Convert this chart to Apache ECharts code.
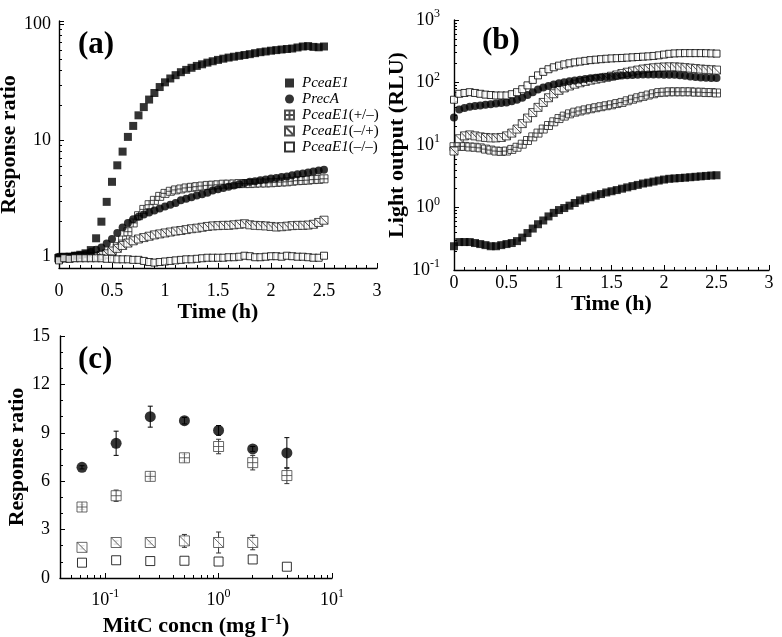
<!DOCTYPE html>
<html><head><meta charset="utf-8">
<script src="https://cdn.jsdelivr.net/npm/echarts@6/dist/echarts.min.js"></script>
<style>html,body{margin:0;padding:0;background:#fff}#c{width:782px;height:637px}</style>
</head><body><div id="c"></div>
<script>
// ---------- data ----------
const time = [0,0.05,0.1,0.15,0.2,0.25,0.3,0.35,0.4,0.45,0.5,0.55,0.6,0.65,0.7,0.75,0.8,0.85,0.9,0.95,1,1.05,1.1,1.15,1.2,1.25,1.3,1.35,1.4,1.45,1.5,1.55,1.6,1.65,1.7,1.75,1.8,1.85,1.9,1.95,2,2.05,2.1,2.15,2.2,2.25,2.3,2.35,2.4,2.45,2.5];
const seriesNames = ['PceaE1','PrecA','PceaE1(+/–)','PceaE1(–/+)','PceaE1(–/–)'];
// panel (a): response ratio
const aPceaE1 = [0.97,1.0,1.0,1.02,1.04,1.07,1.14,1.44,2.0,2.96,4.4,6.1,8.0,10.7,13.3,16.4,19.3,22.4,25.5,28.7,31.5,34.0,36.3,38.5,40.3,42.0,43.6,45.0,46.5,47.8,49.1,50.3,51.4,52.3,53.2,54.1,55.0,56.1,57.2,58.0,58.9,59.6,60.3,60.9,61.5,62.8,64.0,64.5,63.5,63.0,64.0];
const aPrecA = [1.0,0.98,1.0,1.02,1.03,1.05,1.1,1.15,1.2,1.3,1.42,1.6,1.78,1.95,2.1,2.2,2.3,2.4,2.5,2.6,2.7,2.8,2.9,3.05,3.15,3.25,3.35,3.45,3.55,3.7,3.8,3.9,4.0,4.1,4.2,4.3,4.4,4.45,4.55,4.6,4.7,4.75,4.85,4.9,5.0,5.1,5.2,5.3,5.4,5.5,5.6];
const aPlusMinus = [0.97,0.98,0.98,0.99,1.0,1.0,1.0,1.0,1.02,1.04,1.1,1.22,1.39,1.64,1.95,2.25,2.55,2.8,3.05,3.3,3.5,3.65,3.75,3.82,3.9,3.95,4.0,4.05,4.1,4.12,4.15,4.2,4.2,4.22,4.25,4.25,4.25,4.28,4.3,4.3,4.32,4.35,4.38,4.4,4.45,4.5,4.52,4.55,4.6,4.62,4.67];
const aMinusPlus = [0.97,0.98,0.98,0.99,1.0,1.0,1.0,1.01,1.03,1.06,1.12,1.18,1.25,1.31,1.37,1.42,1.46,1.5,1.54,1.57,1.6,1.63,1.66,1.68,1.71,1.74,1.76,1.79,1.82,1.84,1.85,1.86,1.86,1.88,1.9,1.92,1.88,1.86,1.85,1.84,1.82,1.8,1.81,1.83,1.85,1.86,1.86,1.87,1.9,1.97,2.06];
const aMinusMinus = [0.93,0.97,0.96,0.97,0.97,0.97,0.97,0.97,0.97,0.96,0.96,0.95,0.95,0.95,0.94,0.94,0.92,0.9,0.89,0.9,0.91,0.92,0.93,0.94,0.95,0.95,0.96,0.97,0.98,0.98,0.98,0.98,0.99,0.99,1.0,1.02,1.01,0.99,0.99,1.0,1.01,1.01,1.0,1.02,1.01,1.0,1.0,0.99,0.98,0.98,1.02];
// panel (b): light output (RLU)
const bPceaE1 = [0.24,0.28,0.28,0.28,0.27,0.26,0.25,0.24,0.24,0.25,0.26,0.27,0.29,0.33,0.39,0.46,0.54,0.62,0.72,0.82,0.91,0.98,1.07,1.18,1.3,1.38,1.46,1.55,1.64,1.74,1.82,1.9,2.0,2.1,2.2,2.3,2.42,2.5,2.6,2.7,2.8,2.88,2.92,2.96,3.0,3.05,3.1,3.15,3.2,3.25,3.28];
const bPrecA = [27.5,37,39,41,42,43,44,45,46,47,48,50,53,57,63,70,77,83,88,93,97,101,105,108,111,114,117,119,121,123,125,127,129,131,132,133,134,134,134,134,133,133,133,131,128,125,122,120,119,118,118];
const bPlusMinus = [9.4,9.5,9.5,9.3,9.2,9.0,8.6,8.3,8.0,7.9,8.0,8.5,9.2,10.3,11.8,13.5,15.5,18,20.5,23.5,26.5,29,31.5,33.5,35,36.5,38,39.5,41,42.5,44,46,48,51,54,57,60,63,66,69,70,71,71,71,71,71,70,70,69,69,68];
const bMinusPlus = [8.0,12.6,14,14.5,14,13.5,13.2,13,13,13.2,14,15.5,18,22,27,33,40,48,57,66,75,82,88,94,99,104,109,113,117,121,126,132,139,146,152,158,164,168,172,175,177,178,178,176,173,170,167,164,162,160,158];
const bMinusMinus = [53,66,68,70,68,66,64,63,62,62,62,65,70,78,90,110,130,148,163,175,186,195,203,210,216,222,228,232,236,240,243,245,247,250,253,256,259,262,266,272,280,288,292,294,295,295,295,295,294,292,290];
// panel (c): response ratio vs MitC concentration
const cConc = [0.0625,0.125,0.25,0.5,1,2,4];
const cPrecA = [6.86,8.35,10.0,9.75,9.15,8.0,7.75];
const cPrecAErr = [0.1,0.75,0.65,0.2,0.3,0.15,0.95];
const cPlusMinus = [4.4,5.1,6.3,7.45,8.15,7.15,6.35];
const cPlusMinusErr = [0.15,0.35,0.15,0.2,0.45,0.45,0.5];
const cMinusPlus = [1.9,2.2,2.2,2.3,2.2,2.2];
const cMinusPlusErr = [0.1,0.1,0.1,0.4,0.65,0.45];
const cMinusMinus = [0.95,1.1,1.05,1.07,1.02,1.15,0.7];

// ---------- styles ----------
const FONT = 'Liberation Serif';
const SYM_CROSS = 'path://M0,0H10V10H0Z M5,0V10 M0,5H10';
const SYM_HATCH = 'path://M0,0H10V10H0Z M0,0L10,10';
const pair = (xs, ys) => ys.map((v, i) => [xs[i], v]);

function styleFor(k, big) {
  const s = big ? 10 : 8;
  const stroke = big ? '#444' : '#222';
  switch (k) {
    case 0: return {symbol:'rect', symbolSize:s, itemStyle:{color:'#000'}};
    case 1: return {symbol:'circle', symbolSize:big ? 11 : 8, itemStyle:{color:'#000'}};
    case 2: return {symbol:SYM_CROSS, symbolSize:s, itemStyle:{color:'#fff', borderColor:stroke, borderWidth:1}};
    case 3: return {symbol:SYM_HATCH, symbolSize:s, itemStyle:{color:'#fff', borderColor:stroke, borderWidth:1}};
    default: return {symbol:'rect', symbolSize:s - 1, itemStyle:{color:'#fff', borderColor:'#000', borderWidth:1}};
  }
}
function scatter(name, k, data, gi, big) {
  return Object.assign({type:'scatter', name, data, xAxisIndex:gi, yAxisIndex:gi,
    silent:true, z: 3 + (k === 4 ? 1 : 0), emphasis:{disabled:true}}, styleFor(k, big));
}
function errBars(xs, ys, es, color) {
  return {type:'custom', xAxisIndex:2, yAxisIndex:2, silent:true, z:2,
    data: ys.map((v, i) => [xs[i], v, es[i]]),
    encode:{x:0, y:1},
    renderItem: (params, api) => {
      const x = api.value(0), y = api.value(1), e = api.value(2);
      const t = api.coord([x, y + e]), b = api.coord([x, y - e]);
      const w = 2.5, st = {stroke:color, lineWidth:1};
      return {type:'group', children:[
        {type:'line', shape:{x1:t[0], y1:t[1], x2:b[0], y2:b[1]}, style:st},
        {type:'line', shape:{x1:t[0]-w, y1:t[1], x2:t[0]+w, y2:t[1]}, style:st},
        {type:'line', shape:{x1:b[0]-w, y1:b[1], x2:b[0]+w, y2:b[1]}, style:st}
      ]};
    }};
}

const axisLine = {show:true, onZero:false, lineStyle:{color:'#000', width:1.4}};
const tick = (len) => ({show:true, inside:true, length:len, lineStyle:{color:'#000', width:1}});
const minor = (n) => ({show:true, splitNumber:n, length:3, lineStyle:{color:'#000', width:1}});
const lab = (margin) => ({color:'#000', fontFamily:FONT, fontSize:18, margin});
const nameStyle = {color:'#000', fontFamily:FONT, fontSize:22, fontWeight:'bold'};
const isPow = v => Math.abs(Math.log10(v) - Math.round(Math.log10(v))) < 1e-6;
const supRich = {
  b:{fontFamily:FONT, fontSize:18, color:'#000'},
  s:{fontFamily:FONT, fontSize:12, color:'#000', padding:[0,0,12,0]}
};
const supFmt = v => isPow(v) ? '{b|10}{s|' + Math.round(Math.log10(v)) + '}' : '';

const timeAxis = (gi, margin, gap) => ({
  type:'value', gridIndex:gi, min:0, max:3, interval:0.5,
  axisLine, axisTick:tick(5), minorTick:minor(5), splitLine:{show:false}, minorSplitLine:{show:false},
  axisLabel:lab(margin), name:'Time (h)', nameLocation:'middle', nameGap:gap, nameTextStyle:nameStyle
});

const option = {
  backgroundColor:'#fff',
  animation:false,
  textStyle:{fontFamily:FONT},
  grid:[
    {left:59, top:21, width:318, height:247, outerBoundsMode:'none'},
    {left:454, top:20, width:315, height:250, outerBoundsMode:'none'},
    {left:60, top:336, width:272, height:242, outerBoundsMode:'none'}
  ],
  xAxis:[
    timeAxis(0, 14, 29),
    timeAxis(1, 4, 20),
    {type:'log', gridIndex:2, min:0.04, max:10, logBase:10,
     axisLine, axisTick:tick(5), minorTick:minor(9), splitLine:{show:false}, minorSplitLine:{show:false},
     axisLabel:Object.assign(lab(10), {formatter:supFmt, rich:supRich, showMinLabel:false}),
     name:'{t|MitC concn (mg l}{s|−1}{t|)}', nameLocation:'middle', nameGap:35,
     nameTextStyle:Object.assign({}, nameStyle, {rich:{
       t:{fontFamily:FONT, fontSize:22, fontWeight:'bold', color:'#000'},
       s:{fontFamily:FONT, fontSize:14, fontWeight:'bold', color:'#000', padding:[0,0,12,0]}}})}
  ],
  yAxis:[
    {type:'log', gridIndex:0, min:0.8, max:106, logBase:10,
     axisLine, axisTick:tick(5), minorTick:minor(9), splitLine:{show:false}, minorSplitLine:{show:false},
     axisLabel:Object.assign(lab(8), {formatter:v => isPow(v) ? String(Math.round(v)) : '', showMinLabel:false, showMaxLabel:false}),
     name:'Response ratio', nameLocation:'middle', nameGap:29, nameTextStyle:nameStyle},
    {type:'log', gridIndex:1, min:0.1, max:1000, logBase:10,
     axisLine, axisTick:tick(5), minorTick:minor(9), splitLine:{show:false}, minorSplitLine:{show:false},
     axisLabel:Object.assign(lab(14), {formatter:supFmt, rich:supRich}),
     name:'Light output (RLU)', nameLocation:'middle', nameGap:32, nameTextStyle:nameStyle},
    {type:'value', gridIndex:2, min:0, max:15, interval:3,
     axisLine, axisTick:tick(5), minorTick:minor(3), splitLine:{show:false}, minorSplitLine:{show:false},
     axisLabel:lab(10),
     name:'Response ratio', nameLocation:'middle', nameGap:22, nameTextStyle:nameStyle}
  ],
  legend:{
    data:seriesNames, orient:'vertical', left:279, top:70, itemWidth:9, itemHeight:9, itemGap:0,
    selectedMode:false,
    formatter: n => { const m = n.match(/^([A-Za-z0-9]+)(.*)$/); return '{i|' + m[1] + '}' + (m[2] ? '{n|' + m[2] + '}' : ''); },
    textStyle:{fontFamily:FONT, fontSize:15, color:'#000', lineHeight:16, padding:[0,0,0,3],
      rich:{i:{fontFamily:FONT, fontSize:15, fontStyle:'italic', color:'#000', lineHeight:16},
            n:{fontFamily:FONT, fontSize:15, fontStyle:'normal', color:'#000', lineHeight:16}}}
  },
  graphic:[
    {type:'text', left:78, top:29, style:{text:'(a)', font:'bold 31px "Liberation Serif"', fill:'#000'}},
    {type:'text', left:482, top:25, style:{text:'(b)', font:'bold 31px "Liberation Serif"', fill:'#000'}},
    {type:'text', left:78, top:344, style:{text:'(c)', font:'bold 31px "Liberation Serif"', fill:'#000'}}
  ],
  series:[
    scatter(seriesNames[2], 2, pair(time, aPlusMinus), 0),
    scatter(seriesNames[3], 3, pair(time, aMinusPlus), 0),
    scatter(seriesNames[1], 1, pair(time, aPrecA), 0),
    scatter(seriesNames[0], 0, pair(time, aPceaE1), 0),
    scatter(seriesNames[4], 4, pair(time, aMinusMinus), 0),

    scatter('b PceaE1', 0, pair(time, bPceaE1), 1),
    scatter('b PceaE1(+/–)', 2, pair(time, bPlusMinus), 1),
    scatter('b PceaE1(–/+)', 3, pair(time, bMinusPlus), 1),
    scatter('b PrecA', 1, pair(time, bPrecA), 1),
    scatter('b PceaE1(–/–)', 4, pair(time, bMinusMinus), 1),

    errBars(cConc, cPrecA, cPrecAErr, '#000'),
    errBars(cConc, cPlusMinus, cPlusMinusErr, '#333'),
    errBars(cConc, cMinusPlus, cMinusPlusErr, '#333'),
    scatter('c PrecA', 1, pair(cConc, cPrecA), 2, true),
    scatter('c PceaE1(+/–)', 2, pair(cConc, cPlusMinus), 2, true),
    scatter('c PceaE1(–/+)', 3, pair(cConc, cMinusPlus), 2, true),
    scatter('c PceaE1(–/–)', 4, pair(cConc, cMinusMinus), 2, true)
  ]
};
const chart = echarts.init(document.getElementById('c'), null, {renderer:'canvas'});
chart.setOption(option);
</script></body></html>
